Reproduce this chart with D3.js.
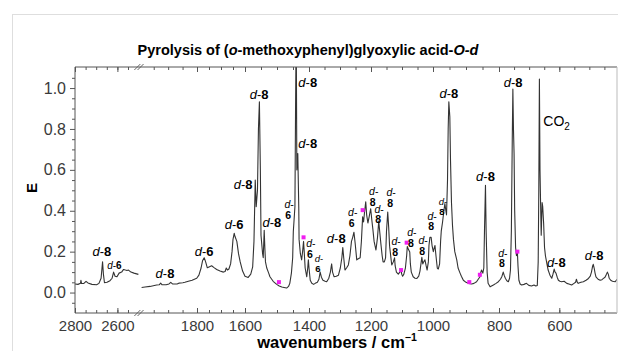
<!DOCTYPE html>
<html><head><meta charset="utf-8">
<script src="https://cdn.jsdelivr.net/npm/d3@7"></script>
<style>
body{margin:0;background:#fff;}
svg{display:block;font-family:"Liberation Sans",Arial,Helvetica,sans-serif;}
</style>
</head><body>
<svg id="c" width="618" height="351"></svg>
<script>
// ---------- DATA ----------
// left panel of the broken wavenumber axis (cm-1) and absorbance E
const leftWavenumbers = [2800,2786,2774,2772,2769,2758,2748,2739,2720,2698,2687,2677,2670,2666,2661,2649,2635,2625,2618,2611,2602,2592,2580,2571,2562,2555,2548,2536,2522,2501];
const leftE = [0.042,0.040,0.045,0.060,0.044,0.045,0.055,0.047,0.040,0.038,0.045,0.070,0.150,0.090,0.048,0.050,0.058,0.070,0.100,0.080,0.077,0.095,0.100,0.113,0.110,0.108,0.110,0.100,0.095,0.089];

// right panel
const rightWavenumbers = [1992,1980,1963,1940,1931,1926,1921,1907,1897,1891,1885,1869,1863,1849,1842,1830,1817,1801,
1792,1783,1777,1770,1764,1757,1750,1739,1729,1718,1704,1690,1683,1678,1673,1667,1660,1654,1650,1645,1642,1634,1627,1620,1610,1600,
1590,1582,1576,1572,1568,1565,1561,1558,1555,1552,1550,1545,1543,1540,1538,1536,1532,1526,1522,1512,1501,1493,1485,1478,1470,1464,1460,1455,1451,1449,1447,1444,1442,1440,1438,1435,1432,1431,1427,1423,1420,1417,1415,1412,1407,1404,1402,
1400,1396,1391,1385,1380,1373,1368,1364,1360,1355,1348,1343,1336,1331,1327,1324,1319,1312,1305,1299,1294,1291,1288,1284,1279,1273,1268,1263,1259,1255,1251,1246,1241,1235,1231,1227,1224,1221,1217,1214,1210,1206,1201,
1197,1194,1190,1184,1179,1175,1172,1168,1164,1161,1157,1153,1150,1146,1143,1140,1135,1133,1128,1124,1122,1118,1112,1107,1103,1101,1098,1094,1089,1085,1083,1079,1075,1073,1070,1064,1058,1052,1046,1042,1038,1036,1033,1030,1026,1022,1019,1015,1013,1010,1006,1003,
999,996,994,991,987,984,980,977,975,971,967,964,961,959,956,954,952,949,947,944,941,938,934,928,924,918,914,908,900,893,888,883,876,868,863,858,855,853,849,846,844,841,839,836,833,827,817,809,802,
795,790,786,783,779,774,769,765,762,759,756,754,752,750,748,745,742,739,737,734,730,725,717,709,701,692,684,678,673,670,668,666,
664,662,660,657,655,652,649,646,641,637,631,625,621,617,614,611,607,603,598,592,584,575,568,559,551,546,543,540,537,528,520,511,503,497,493,489,487,484,481,478,471,464,458,453,448,443,440,437,434,429,423,414,408];
const rightE = [0.025,0.027,0.030,0.037,0.038,0.046,0.038,0.038,0.042,0.050,0.042,0.042,0.046,0.048,0.050,0.055,0.060,0.070,0.085,0.120,0.155,0.170,0.150,0.121,0.125,0.131,0.122,0.113,0.105,0.100,0.103,0.120,0.110,0.115,0.140,0.200,0.260,0.290,0.275,0.250,0.190,0.150,0.105,0.080,0.074,0.090,0.126,0.250,0.550,0.420,0.500,0.800,0.933,0.600,0.280,0.190,0.170,0.305,0.220,0.150,0.120,0.095,0.077,0.055,0.040,0.032,0.027,0.025,0.022,0.030,0.045,0.095,0.170,0.300,0.346,0.420,0.900,1.300,0.600,0.680,0.420,0.260,0.190,0.160,0.200,0.250,0.200,0.120,0.077,0.120,0.160,0.120,0.060,0.045,0.040,0.045,0.050,0.065,0.100,0.075,0.060,0.055,0.053,0.070,0.100,0.140,0.100,0.077,0.080,0.085,0.120,0.170,0.220,0.170,0.110,0.120,0.135,0.180,0.250,0.270,0.295,0.240,0.160,0.165,0.170,0.250,0.370,0.345,0.390,0.444,0.380,0.340,0.370,0.410,0.350,0.310,0.250,0.208,0.270,0.350,0.300,0.237,0.180,0.150,0.150,0.170,0.300,0.394,0.320,0.227,0.160,0.135,0.150,0.170,0.130,0.100,0.090,0.100,0.110,0.090,0.080,0.090,0.120,0.180,0.225,0.210,0.198,0.140,0.100,0.077,0.070,0.069,0.080,0.105,0.150,0.172,0.140,0.150,0.160,0.130,0.110,0.150,0.230,0.270,0.270,0.230,0.200,0.220,0.230,0.180,0.120,0.115,0.140,0.250,0.300,0.345,0.400,0.435,0.400,0.380,0.550,0.800,0.933,0.860,0.650,0.440,0.330,0.260,0.200,0.160,0.120,0.095,0.080,0.060,0.050,0.045,0.043,0.042,0.045,0.053,0.065,0.076,0.100,0.110,0.095,0.120,0.300,0.525,0.300,0.100,0.045,0.028,0.037,0.045,0.053,0.065,0.080,0.100,0.085,0.070,0.058,0.053,0.070,0.110,0.300,0.750,0.995,0.800,0.680,0.400,0.220,0.180,0.198,0.130,0.060,0.042,0.037,0.040,0.045,0.035,0.032,0.037,0.032,0.035,0.150,0.500,1.044,0.600,0.430,0.280,0.440,0.420,0.340,0.220,0.180,0.140,0.110,0.085,0.070,0.090,0.115,0.100,0.095,0.075,0.060,0.055,0.053,0.055,0.045,0.042,0.037,0.045,0.050,0.065,0.050,0.045,0.050,0.053,0.060,0.069,0.080,0.100,0.130,0.138,0.120,0.095,0.077,0.065,0.060,0.063,0.069,0.075,0.090,0.100,0.090,0.070,0.060,0.055,0.053,0.065];

// magenta markers
const markerWavenumbers = [1494,1417,1227,1103,1085,890,858,739];
const markerE = [0.051,0.270,0.403,0.110,0.244,0.051,0.087,0.200];

// peak annotations: number, anchor wavenumber, anchor E, layout kind
const labelNumbers = ["8","6","8","6","6","8","8","8","8","8","6","6","6","8","6","8","8","8","8","8","8","8","8","8","8","8","8","8","8"];
const labelWavenumbers = [2673,2614,1911,1770,1645,1608,1516,1556,1404,1404,1462,1394,1368,1312,1259,1191,1174,1135,1119,1068,1032,1003,970,952,841,787,753,610,484];
const labelE = [0.178,0.115,0.071,0.178,0.311,0.506,0.320,0.946,1.005,0.707,0.413,0.222,0.149,0.242,0.374,0.477,0.389,0.472,0.232,0.276,0.237,0.355,0.428,0.951,0.545,0.174,1.005,0.125,0.159];
const labelKinds = ["one","small","one","one","one","one","one","one","one","one","stack","stack","tiny","one","stack","stack","stack","stack","stack","stack","stack","stack","tiny","one","one","stack","one","one","one"];

const co2Wavenumber = 653, co2E = 0.814;

// axis ticks
const leftMinorTicks = [2800,2750,2700,2650,2600,2550];
const leftMajorTicks = [2800,2600];
const rightMinorTicks = [1950,1900,1850,1800,1750,1700,1650,1600,1550,1500,1450,1400,1350,1300,1250,1200,1150,1100,1050,1000,950,900,850,800,750,700,650,600,550,500,450];
const rightMajorTicks = [1800,1600,1400,1200,1000,800,600];
const yMajorTicks = [0,0.2,0.4,0.6,0.8,1.0];
const yMinorTicks = [-0.05,0.05,0.1,0.15,0.25,0.3,0.35,0.45,0.5,0.55,0.65,0.7,0.75,0.85,0.9,0.95,1.05];

// ---------- DRAWING ----------
const svg = d3.select("#c");
const plotL = 75, plotR = 617, plotT = 67, plotB = 313;
const axisColor = "#555", lineColor = "#333";

svg.append("rect").attr("x",12.5).attr("y",14.5).attr("width",700).attr("height",400)
  .attr("fill","none").attr("stroke","#dedede");

const xLeft = d3.scaleLinear().domain([2800,2500]).range([plotL,138.6]);
// the right panel of the printed axis is not evenly spaced; piecewise-linear through the printed tick positions
const xRight = d3.scaleLinear()
  .domain([2000,1800,1600,1400,1200,1000,800,600,408])
  .range([139.3,197,245,309,371,433,499,559.3,plotR]);
const y = d3.scaleLinear().domain([-0.1,1.1]).range([plotB,67.6]);
const xOf = w => w > 2250 ? xLeft(w) : xRight(w);

svg.append("clipPath").attr("id","clip").append("rect")
  .attr("x",plotL).attr("y",plotT).attr("width",plotR-plotL).attr("height",plotB-plotT);

const plot = svg.append("g").attr("clip-path","url(#clip)");
const lineL = d3.line().x(d=>xLeft(d[0])).y(d=>y(d[1]));
const lineR = d3.line().x(d=>xRight(d[0])).y(d=>y(d[1]));
plot.append("path").datum(d3.zip(leftWavenumbers,leftE)).attr("d",lineL)
  .attr("fill","none").attr("stroke",lineColor).attr("stroke-width",1.1).attr("stroke-linejoin","round");
plot.append("path").datum(d3.zip(rightWavenumbers,rightE)).attr("d",lineR)
  .attr("fill","none").attr("stroke",lineColor).attr("stroke-width",1.1).attr("stroke-linejoin","round");

// markers
svg.append("g").selectAll("rect").data(d3.zip(markerWavenumbers,markerE)).join("rect")
  .attr("x",d=>xOf(d[0])-2).attr("y",d=>y(d[1])-2).attr("width",4).attr("height",4)
  .attr("fill","#f01ef0");

// axes
function styleAxis(g){
  g.select(".domain").remove();
  g.selectAll("line").attr("stroke",axisColor);
  g.selectAll("text").attr("fill","#3a3a3a").style("font-size","15px").style("font-family",'"Liberation Sans",Arial,sans-serif');
}
const gBottom = svg.append("g").attr("transform",`translate(0,${plotB})`);
gBottom.append("g").call(d3.axisBottom(xLeft).tickValues(leftMinorTicks).tickSizeInner(-3).tickSizeOuter(0).tickFormat("")).call(styleAxis);
gBottom.append("g").call(d3.axisBottom(xRight).tickValues(rightMinorTicks).tickSizeInner(-3).tickSizeOuter(0).tickFormat("")).call(styleAxis);
gBottom.append("g").call(d3.axisBottom(xLeft).tickValues(leftMajorTicks).tickSizeInner(-5).tickSizeOuter(0).tickPadding(7).tickFormat(d3.format("d"))).call(styleAxis);
gBottom.append("g").call(d3.axisBottom(xRight).tickValues(rightMajorTicks).tickSizeInner(-5).tickSizeOuter(0).tickPadding(7).tickFormat(d3.format("d"))).call(styleAxis);

const gTop = svg.append("g").attr("transform",`translate(0,${plotT})`);
gTop.append("g").call(d3.axisTop(xLeft).tickValues(leftMinorTicks).tickSizeInner(-3).tickSizeOuter(0).tickFormat("")).call(styleAxis);
gTop.append("g").call(d3.axisTop(xRight).tickValues(rightMinorTicks).tickSizeInner(-3).tickSizeOuter(0).tickFormat("")).call(styleAxis);
gTop.append("g").call(d3.axisTop(xLeft).tickValues(leftMajorTicks).tickSizeInner(-5).tickSizeOuter(0).tickFormat("")).call(styleAxis);
gTop.append("g").call(d3.axisTop(xRight).tickValues(rightMajorTicks).tickSizeInner(-5).tickSizeOuter(0).tickFormat("")).call(styleAxis);

const gLeft = svg.append("g").attr("transform",`translate(${plotL},0)`);
gLeft.append("g").call(d3.axisLeft(y).tickValues(yMinorTicks).tickSizeInner(3).tickSizeOuter(0).tickFormat("")).call(styleAxis);
gLeft.append("g").call(d3.axisLeft(y).tickValues(yMajorTicks).tickSizeInner(5).tickSizeOuter(0).tickPadding(4).tickFormat(d3.format(".1f"))).call(styleAxis);
gLeft.selectAll("text").style("font-size","16px");

// frame
const frame = svg.append("g").attr("stroke",axisColor).attr("stroke-width",1);
frame.append("line").attr("x1",plotL).attr("x2",plotL).attr("y1",plotT).attr("y2",plotB);
frame.append("line").attr("x1",plotL).attr("x2",plotR).attr("y1",plotT).attr("y2",plotT);
frame.append("line").attr("x1",plotL).attr("x2",plotR).attr("y1",plotB).attr("y2",plotB);
frame.append("line").attr("x1",plotR).attr("x2",plotR).attr("y1",plotT).attr("y2",plotB).attr("stroke","#bbb");

// axis break marks
const xb = (xLeft(2500)+xRight(2000))/2;
[plotT,plotB].forEach(yy=>{
  [-1.6,1.6].forEach(o=>{
    svg.append("line").attr("x1",xb+o-3).attr("y1",yy+3).attr("x2",xb+o+3).attr("y2",yy-3)
      .attr("stroke",axisColor).attr("stroke-width",0.9);
  });
});

// peak labels
const kindStyle = {one:{size:13,stack:false}, small:{size:10,stack:false}, stack:{size:10.5,stack:true}, tiny:{size:9.5,stack:true}};
const labG = svg.append("g").attr("fill","#000");
labelNumbers.forEach((num,i)=>{
  const st = kindStyle[labelKinds[i]];
  const cx = xOf(labelWavenumbers[i]), by = y(labelE[i]);
  if(!st.stack){
    const t = labG.append("text").attr("x",cx).attr("y",by).attr("text-anchor","middle").style("font-size",st.size+"px");
    t.append("tspan").attr("font-style","italic").text("d");
    t.append("tspan").text("-");
    t.append("tspan").attr("font-weight","bold").text(num);
  } else {
    const t = labG.append("text").attr("x",cx).attr("y",by).attr("text-anchor","middle").style("font-size",st.size+"px");
    t.append("tspan").attr("font-style","italic").text("d");
    t.append("tspan").text("-");
    labG.append("text").attr("x",cx-1).attr("y",by+st.size*1.0).attr("text-anchor","middle")
      .style("font-size",st.size+"px").attr("font-weight","bold").text(num);
  }
});

// CO2 label
const co2 = svg.append("text").attr("x",xRight(co2Wavenumber)).attr("y",y(co2E)).style("font-size","14px").attr("fill","#000");
co2.append("tspan").text("CO");
co2.append("tspan").attr("dy",4).style("font-size","10px").text("2");

// titles
const title = svg.append("text").attr("x",308).attr("y",55).attr("text-anchor","middle")
  .style("font-size","14.5px").attr("font-weight","bold").attr("fill","#000");
title.append("tspan").text("Pyrolysis of (");
title.append("tspan").attr("font-style","italic").text("o");
title.append("tspan").text("-methoxyphenyl)glyoxylic acid-");
title.append("tspan").attr("font-style","italic").text("O-d");

const xt = svg.append("text").attr("x",337).attr("y",348).attr("text-anchor","middle")
  .style("font-size","16.5px").attr("font-weight","bold").attr("fill","#000");
xt.append("tspan").text("wavenumbers / cm");
xt.append("tspan").attr("dy",-7).style("font-size","10.5px").text("\u22121");

svg.append("text").attr("transform","translate(37,188) rotate(-90)").attr("text-anchor","middle")
  .style("font-size","15px").attr("font-weight","bold").attr("fill","#000").text("E");
</script>
</body></html>
